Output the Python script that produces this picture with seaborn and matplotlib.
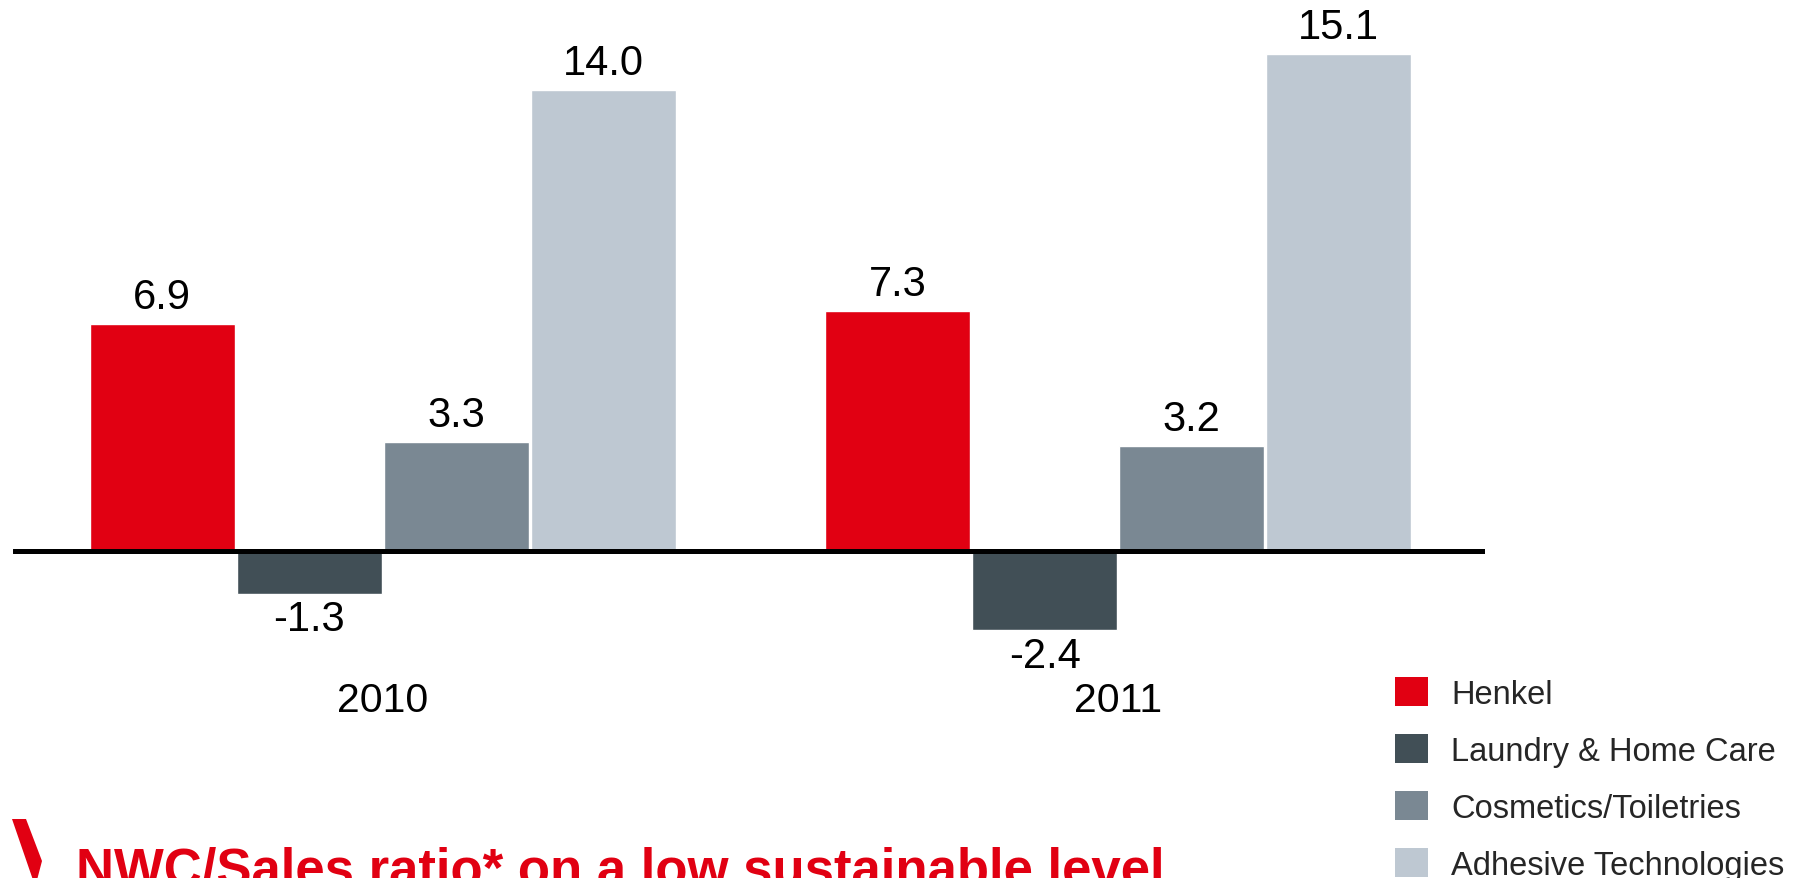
import matplotlib
matplotlib.use("Agg")
import matplotlib.pyplot as plt
from matplotlib.patches import Patch, Polygon
import pandas as pd
import seaborn as sns

# Net working capital in percent of sales, by business sector
years = ["2010", "2011"]
segments = ["Henkel", "Laundry & Home Care", "Cosmetics/Toiletries", "Adhesive Technologies"]
henkel = [6.9, 7.3]
laundry_home_care = [-1.3, -2.4]
cosmetics_toiletries = [3.3, 3.2]
adhesive_technologies = [14.0, 15.1]
colors = ["#E10012", "#414F56", "#7A8893", "#BEC8D2"]
headline = "NWC/Sales ratio* on a low sustainable level"

series = [henkel, laundry_home_care, cosmetics_toiletries, adhesive_technologies]
df = pd.DataFrame(
    [(y, seg, vals[i]) for seg, vals in zip(segments, series) for i, y in enumerate(years)],
    columns=["year", "segment", "value"],
)

sns.set_theme(style="white")
plt.rcParams["font.family"] = ["Liberation Sans", "DejaVu Sans"]

W, H = 1800, 879
fig = plt.figure(figsize=(W / 100, H / 100), dpi=100)

def px(x, y):
    return x / W, 1 - y / H

ax = fig.add_axes([13 / W, 1 - 667.15 / H, (1485 - 13) / W, (667.15 - 9.15) / H])
sns.barplot(data=df, x="year", y="value", hue="segment", hue_order=segments,
            order=years, palette=colors, gap=0.014, saturation=1, legend=False,
            ax=ax, zorder=2)
ax.set_xlim(-0.503, 1.499)
ax.set_ylim(-3.5, 16.5)
ax.axhline(0, color="black", linewidth=3.6, solid_capstyle="round", zorder=5)

for cont in ax.containers:
    vals = cont.datavalues
    pos = [f"{v:.1f}" if v >= 0 else "" for v in vals]
    neg = [f"{v:.1f}" if v < 0 else "" for v in vals]
    ax.bar_label(cont, labels=pos, padding=5, fontsize=30, color="black")
    ax.bar_label(cont, labels=neg, padding=4, fontsize=30, color="black")

for s in ax.spines.values():
    s.set_visible(False)
ax.set_yticks([])
ax.set_xlabel("")
ax.set_ylabel("")
ax.tick_params(axis="x", length=0, pad=11, labelsize=29.5, labelcolor="black")

handles = [Patch(facecolor=c, edgecolor="none") for c in colors]
fig.legend(handles, segments, loc="upper left", bbox_to_anchor=px(1395, 678),
           frameon=False, fontsize=23.5, handlelength=1.0, handleheight=1.0,
           handletextpad=0.72, labelspacing=0.74, borderpad=0, borderaxespad=0)

fig.text(*px(76, 886), headline, fontsize=38, fontweight="bold",
         color="#E10012", ha="left", va="baseline")
chevron = [(12, 820), (26, 820), (42, 862), (37, 881), (33, 881)]
fig.add_artist(Polygon([px(x, y) for x, y in chevron], closed=True,
                       transform=fig.transFigure, facecolor="#E10012",
                       edgecolor="none"))

fig.savefig("out.png", dpi=100, facecolor="white")
